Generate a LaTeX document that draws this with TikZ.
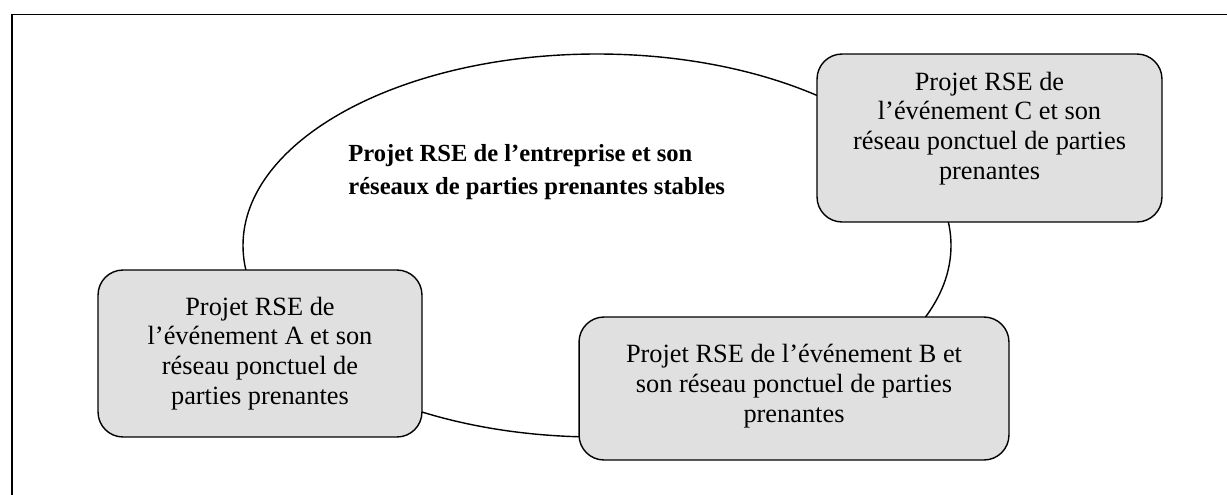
\documentclass[tikz,border=0pt]{standalone}
\usepackage{fontspec}
\setmainfont{Liberation Serif}
\usetikzlibrary{positioning}

\definecolor{boxgray}{RGB}{224,224,224}

\tikzset{
    evtbox/.style={draw, fill=boxgray, line width=0.8pt, rounded corners=0.5cm,
        align=center, inner sep=0pt, font=\fontsize{15}{17}\selectfont},
}

\begin{document}
\begin{tikzpicture}[x=0.02cm, y=-0.02cm]
    \useasboundingbox (0,0) rectangle (1227,494);
    \clip (0,0) rectangle (1227,494);
    \draw[line width=1pt] (12,14.5) rectangle (1240,510);

    \draw[line width=0.8pt] (597,245.5) ellipse [x radius=354, y radius=191.5];
    \node (stable) at (348,144) [anchor=north west, align=left, inner sep=0pt,
        font=\bfseries\fontsize{14}{18.8}\selectfont]
        {Projet RSE de l’entreprise et son\\réseaux de parties prenantes stables};

    \node (evta) at (260,353.5) [evtbox, minimum width=6.48cm, minimum height=3.34cm]
        {Projet RSE de\\l’événement A et son\\réseau ponctuel de\\parties prenantes};
    \node (evtb) at (794,388.5) [evtbox, minimum width=8.6cm, minimum height=2.86cm,
        text depth=6pt]
        {Projet RSE de l’événement B et\\son réseau ponctuel de parties\\prenantes};
    \node (evtc) at (989.5,138) [evtbox, minimum width=6.9cm, minimum height=3.36cm,
        text depth=14pt]
        {Projet RSE de\\l’événement C et son\\réseau ponctuel de parties\\prenantes};
\end{tikzpicture}
\end{document}
